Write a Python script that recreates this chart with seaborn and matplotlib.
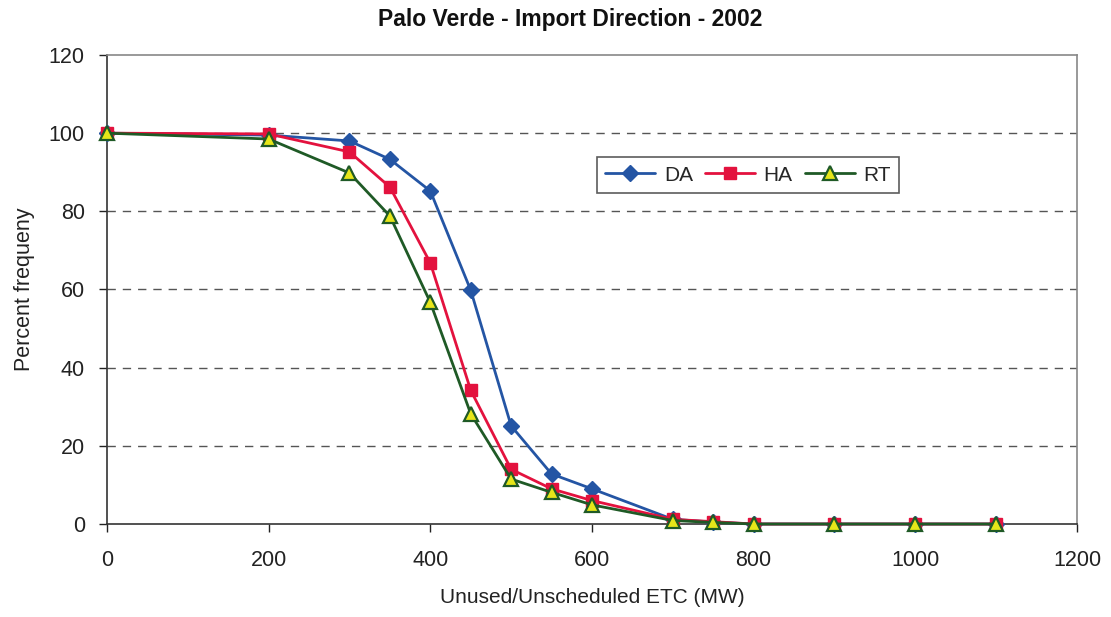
import matplotlib
matplotlib.use("Agg")
import matplotlib.pyplot as plt
import seaborn as sns
import pandas as pd

etc_mw = [0, 200, 300, 350, 400, 450, 500, 550, 600, 700, 750, 800, 900, 1000, 1100]
da_pct = [100, 99.5, 98, 93.3, 85.2, 59.8, 25.1, 12.8, 9.0, 1.2, 0.5, 0, 0, 0, 0]
ha_pct = [100, 99.8, 95.2, 86.2, 66.8, 34.2, 14.0, 9.0, 6.0, 1.2, 0.6, 0, 0, 0, 0]
rt_pct = [100, 98.5, 89.8, 78.8, 56.7, 28.2, 11.5, 8.1, 4.9, 0.9, 0.4, 0, 0, 0, 0]

series_names = ["DA", "HA", "RT"]
x_ticks = [0, 200, 400, 600, 800, 1000, 1200]
y_ticks = [0, 20, 40, 60, 80, 100, 120]

sns.set_theme(style="white")
plt.rcParams["font.family"] = ["Liberation Sans", "DejaVu Sans"]

fig = plt.figure(figsize=(11.11, 6.17), dpi=100)
ax = fig.add_axes([0.0963, 0.1507, 0.8731, 0.7602])

df = pd.DataFrame({"x": etc_mw * 3,
                   "y": da_pct + ha_pct + rt_pct,
                   "s": [n for n in series_names for _ in etc_mw]})

styles = {
    "DA": dict(color="#2455A4", marker="D", markersize=8, mfc="#2455A4", mec="#2455A4", mew=1),
    "HA": dict(color="#E3123E", marker="s", markersize=9, mfc="#E3123E", mec="#E3123E", mew=1),
    "RT": dict(color="#1F5A26", marker="^", markersize=10, mfc="#E6E619", mec="#1F5A26", mew=1.6),
}
for name in series_names:
    st = styles[name]
    sns.lineplot(data=df[df.s == name], x="x", y="y", ax=ax, label=name,
                 color=st["color"], marker=st["marker"], markersize=st["markersize"],
                 markerfacecolor=st["mfc"], markeredgecolor=st["mec"],
                 markeredgewidth=st["mew"], linewidth=2, clip_on=False, zorder=3)

ax.set_xlim(0, 1200)
ax.set_ylim(0, 120)
ax.set_xticks(x_ticks)
ax.set_yticks(y_ticks)
ax.tick_params(axis="both", labelsize=15.5, colors="#222222", direction="out",
               length=6, width=1, bottom=True, left=True)
ax.tick_params(axis="x", pad=13)
ax.tick_params(axis="y", pad=10)
for yv in y_ticks[1:-1]:
    ax.axhline(yv, color="#555555", linestyle=(0, (6, 5)), linewidth=1, zorder=1)

for side in ["left", "bottom"]:
    ax.spines[side].set_color("#333333")
    ax.spines[side].set_linewidth(1.2)
for side in ["top", "right"]:
    ax.spines[side].set_visible(True)
    ax.spines[side].set_color("#888888")
    ax.spines[side].set_linewidth(1.2)

ax.set_xlabel("Unused/Unscheduled ETC (MW)", fontsize=15, color="#222222", labelpad=12)
ax.set_ylabel("Percent frequeny", fontsize=15.5, color="#222222", labelpad=10)
fig.text(0.513, 0.968, "Palo Verde - Import Direction - 2002", fontsize=16.5,
         fontweight="bold", ha="center", va="center", color="#111111")

leg = ax.legend(loc="center", bbox_to_anchor=(0.661, 0.744), ncol=3, fontsize=15,
                frameon=True, fancybox=False, handlelength=2.4, columnspacing=0.6,
                handletextpad=0.4, borderpad=0.4)
leg.get_frame().set_edgecolor("#333333")
leg.get_frame().set_linewidth(1.2)

fig.savefig("out.png", dpi=100, facecolor="white")
